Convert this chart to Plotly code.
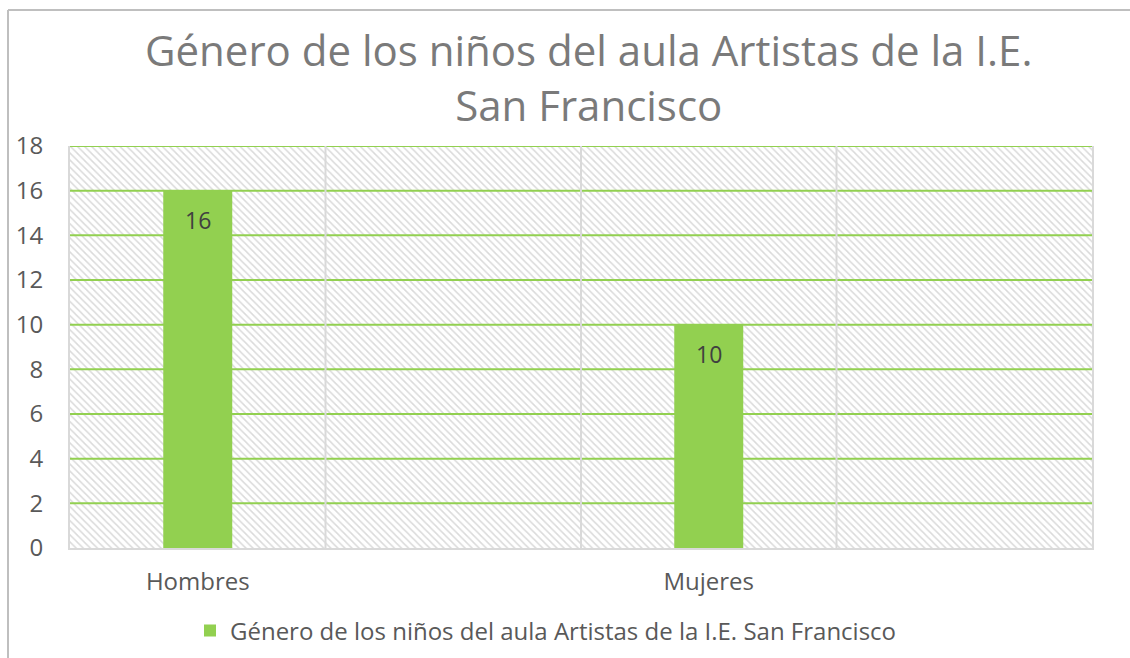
import plotly.graph_objects as go

# ---- data ----
title_text = "Género de los niños del aula Artistas de la I.E.<br>San Francisco"
series_name = "Género de los niños del aula Artistas de la I.E. San Francisco"
categories = ["Hombres", "Mujeres"]
values = [16, 10]
# category slots on the axis (two unlabeled empty slots, as in the source sheet)
category_slots = ["Hombres", " ", "Mujeres", "  "]
y_max = 18
y_step = 2

GREEN = "#92D050"
GRAY_GRID = "#d9d9d9"
FONT = "Open Sans"

W, H = 1130, 658
ML, MR, MT, MB = 70, 38, 146, 110
PW, PH = W - ML - MR, H - MT - MB

fig = go.Figure()

# hatched plot-area background (one full-height band per category slot)
fig.add_trace(go.Bar(
    x=category_slots,
    y=[y_max] * len(category_slots),
    width=1,
    marker=dict(
        color="#dadada",
        line=dict(width=0),
        pattern=dict(shape="\\", size=5, solidity=0.3, fgcolor="#dadada", fillmode="replace"),
    ),
    hoverinfo="skip",
    showlegend=False,
))

fig.add_trace(go.Bar(
    x=categories,
    y=values,
    name=series_name,
    width=0.27,
    marker=dict(color=GREEN, line=dict(width=0)),
    hoverinfo="x+y",
    showlegend=True,
))

# data labels, just below the top of each bar
annotations = [
    dict(x=c, y=v, xref="x", yref="y", text=str(v), showarrow=False,
         yshift=-29, font=dict(family=FONT, size=23, color="#404040"))
    for c, v in zip(categories, values)
]

shapes = []
# horizontal gridlines (drawn over the hatch)
for v in range(y_step, y_max + 1, y_step):
    shapes.append(dict(type="line", xref="paper", yref="y", x0=0, x1=1, y0=v, y1=v,
                       layer="above", line=dict(color=GREEN, width=2)))
# vertical gridlines at category boundaries
for i in range(1, len(category_slots)):
    shapes.append(dict(type="line", xref="x", yref="paper", x0=i - 0.5, x1=i - 0.5, y0=0, y1=1,
                       layer="above", line=dict(color=GRAY_GRID, width=2)))
# chart outer border (top and left edges visible)
bx0 = (8 - ML) / PW
by1 = (H - MB - 10) / PH
shapes.append(dict(type="line", xref="paper", yref="paper", x0=bx0, x1=(W - ML) / PW,
                   y0=by1, y1=by1, line=dict(color="#bfbfbf", width=2)))
shapes.append(dict(type="line", xref="paper", yref="paper", x0=bx0, x1=bx0,
                   y0=by1, y1=-(MB + 5) / PH, line=dict(color="#bfbfbf", width=2)))

fig.update_layout(
    width=W,
    height=H,
    barmode="overlay",
    paper_bgcolor="white",
    plot_bgcolor="white",
    margin=dict(l=ML, r=MR, t=MT, b=MB, autoexpand=False),
    font=dict(family=FONT, color="#595959"),
    title=dict(
        text=title_text,
        x=0.521, xanchor="center",
        y=1 - 66 / H, yanchor="top",
        font=dict(family=FONT, size=42, color="#7a7a7a"),
    ),
    xaxis=dict(
        type="category",
        categoryorder="array",
        categoryarray=category_slots,
        ticks="",
        showgrid=False,
        showline=True,
        linecolor=GRAY_GRID,
        linewidth=2,
        ticklabelstandoff=11,
        tickfont=dict(family=FONT, size=24, color="#595959"),
        range=[-0.5, len(category_slots) - 0.5],
        fixedrange=True,
    ),
    yaxis=dict(
        range=[0, y_max],
        dtick=y_step,
        tick0=0,
        showgrid=False,
        zeroline=False,
        showline=True,
        mirror=True,
        linecolor=GRAY_GRID,
        linewidth=2,
        ticks="",
        ticklabelstandoff=20,
        tickfont=dict(family=FONT, size=24, color="#595959"),
        fixedrange=True,
    ),
    legend=dict(
        orientation="h",
        x=(190 - ML) / PW, xanchor="left",
        y=-(631 - (H - MB)) / PH, yanchor="middle",
        font=dict(family=FONT, size=24, color="#595959"),
        bgcolor="rgba(0,0,0,0)",
    ),
    annotations=annotations,
    shapes=shapes,
)

fig.write_html(
    "out.html",
    config={"displayModeBar": False},
    post_script="document.body.style.margin='0';document.body.style.overflow='hidden';",
)
